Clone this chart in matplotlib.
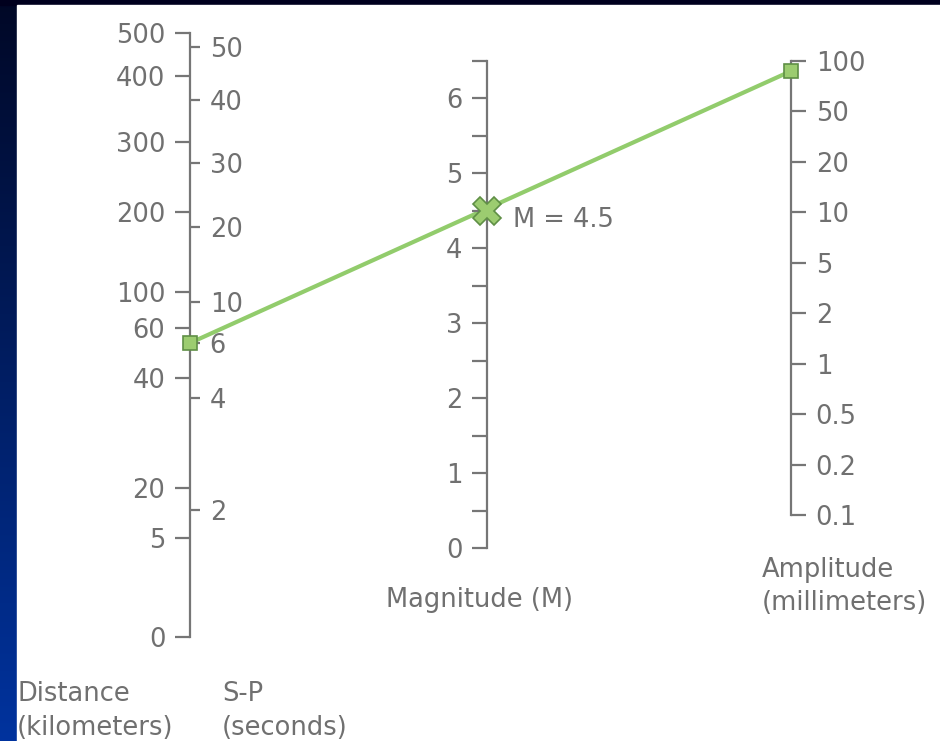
import numpy as np
import matplotlib.pyplot as plt
from matplotlib.patches import ConnectionPatch, Rectangle
from matplotlib.ticker import MultipleLocator

# tick values on the three nomogram scales
dist_km = [0, 5, 20, 40, 60, 100, 200, 300, 400, 500]
sp_sec = [0, 2, 4, 6, 10, 20, 30, 40, 50]
sp_labels = ['', '2', '4', '6', '10', '20', '30', '40', '50']
magnitudes = [0, 1, 2, 3, 4, 5, 6]
amp_mm = [0.1, 0.2, 0.5, 1, 2, 5, 10, 20, 50, 100]
amp_labels = ['0.1', '0.2', '0.5', '1', '2', '5', '10', '20', '50', '100']

# the reading drawn across the chart
sp_reading = 6
mag_reading = 4.5
amp_reading = 90

# where the ticks of the irregular left scales sit along the line (px above the bottom)
dist_cal = [0, 99, 149, 259, 309, 345, 425, 495, 561, 604]
sp_cal = [0, 127, 239, 294, 335, 410, 474, 537, 590]
amp_cal = np.arange(len(amp_mm))

W, H = 940, 741
GREY = '#767676'
TXT = '#707070'
GREEN = '#92cc6c'
plt.rcParams['font.family'] = ['DejaVu Sans']
plt.rcParams['font.size'] = 18.5


def box(x0, y_top, x1, y_bot):
    return [x0 / W, 1 - y_bot / H, (x1 - x0) / W, (y_bot - y_top) / H]


def interp_scale(vals, cal):
    fwd = lambda v: np.interp(v, vals, cal)
    inv = lambda p: np.interp(p, cal, vals)
    return (fwd, inv)


fig = plt.figure(figsize=(W / 100, H / 100), dpi=100)

# slide background: dark blue gradient with white panel
bg = fig.add_axes([0, 0, 1, 1], zorder=-5)
grad = np.linspace(0, 1, 256)[:, None]
top_c = np.array([0.0, 0.03, 0.15])
bot_c = np.array([0.0, 0.2, 0.62])
img = top_c + grad[..., None] * (bot_c - top_c)
bg.imshow(img, extent=[0, 1, 0, 1], aspect='auto')
bg.add_patch(Rectangle((0, 1 - 5 / H), 1, 5 / H, color='#00001e'))
bg.add_patch(Rectangle((17 / W, 0), 1, 1 - 5 / H, color='white'))
bg.set_xlim(0, 1)
bg.set_ylim(0, 1)
bg.axis('off')


def style(ax, side, length):
    for s in ax.spines.values():
        s.set_visible(False)
    ax.patch.set_visible(False)
    ax.set_xticks([])
    ax.set_xlim(0, 1)
    ax.spines[side].set_color(GREY)
    ax.spines[side].set_linewidth(1.6)
    ax.tick_params(axis='y', which='both', direction='out', length=length, width=1.6,
                   color=GREY, labelcolor=TXT, pad=7)


# distance (ticks to the left of the shared line)
ax_d = fig.add_axes(box(180, 33, 190, 637))
style(ax_d, 'left', 10.8)
ax_d.spines['left'].set_visible(True)
ax_d.spines['left'].set_position(('axes', 1.0))
ax_d.yaxis.set_ticks_position('left')
ax_d.set_yscale('function', functions=interp_scale(dist_km, dist_cal))
ax_d.set_ylim(0, 500)
ax_d.set_yticks(dist_km, [str(v) for v in dist_km])

# S-P (ticks to the right of the same line)
ax_s = fig.add_axes(box(190, 47, 200, 637))
style(ax_s, 'left', 7.2)
ax_s.spines['left'].set_visible(False)
ax_s.yaxis.tick_right()
ax_s.spines['right'].set_position(('axes', 0.0))
ax_s.set_yscale('function', functions=interp_scale(sp_sec, sp_cal))
ax_s.set_ylim(0, 50)
ax_s.set_yticks(sp_sec[1:], sp_labels[1:])

# magnitude
ax_m = fig.add_axes(box(487, 60.5, 497, 548))
style(ax_m, 'left', 10.8)
ax_m.spines['left'].set_visible(True)
ax_m.set_ylim(0, 6.5)
ax_m.set_yticks(magnitudes, [str(v) for v in magnitudes])
ax_m.yaxis.set_minor_locator(MultipleLocator(0.5))

# amplitude
ax_a = fig.add_axes(box(781, 61, 791, 515))
style(ax_a, 'right', 10.8)
ax_a.spines['right'].set_visible(True)
ax_a.yaxis.tick_right()
ax_a.set_yscale('function', functions=interp_scale(amp_mm, amp_cal))
ax_a.set_ylim(0.1, 100)
ax_a.set_yticks(amp_mm, amp_labels)

# reading line
con = ConnectionPatch(xyA=(0, sp_reading), coordsA=ax_s.transData,
                      xyB=(1, amp_reading), coordsB=ax_a.transData,
                      color=GREEN, lw=3, zorder=-1)
fig.add_artist(con)
ax_s.plot([0], [sp_reading], 's', ms=10, mfc='#9ccc70', mec='#5f8f45', mew=1.2, clip_on=False, zorder=5)
ax_a.plot([1], [amp_reading], 's', ms=10, mfc='#9ccc70', mec='#5f8f45', mew=1.2, clip_on=False, zorder=5)
ax_m.plot([0], [mag_reading], 'X', ms=20, mfc='#9ccc70', mec='#5f8f45', mew=1.2, clip_on=False, zorder=5)
fig.text(513 / W, 1 - 227 / H, f'M = {mag_reading}', color=TXT, va='baseline')

# scale titles
fig.text(17 / W, 1 - 701 / H, 'Distance', color=TXT, va='baseline')
fig.text(17 / W, 1 - 735 / H, '(kilometers)', color=TXT, va='baseline')
fig.text(222 / W, 1 - 701 / H, 'S-P', color=TXT, va='baseline')
fig.text(222 / W, 1 - 735 / H, '(seconds)', color=TXT, va='baseline')
fig.text(386 / W, 1 - 607 / H, 'Magnitude (M)', color=TXT, va='baseline')
fig.text(762 / W, 1 - 577 / H, 'Amplitude', color=TXT, va='baseline')
fig.text(762 / W, 1 - 610 / H, '(millimeters)', color=TXT, va='baseline')

fig.savefig('out.png', dpi=100)
